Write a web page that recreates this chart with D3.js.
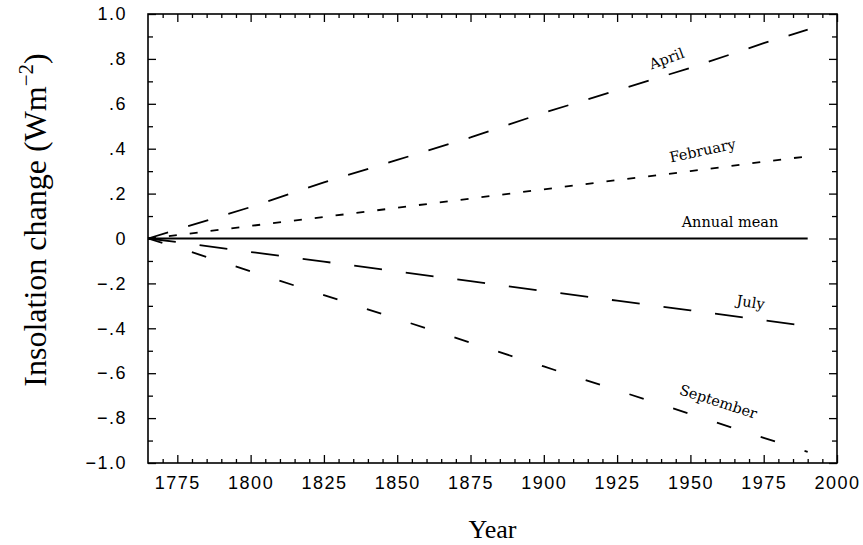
<!DOCTYPE html>
<html>
<head>
<meta charset="utf-8">
<script src="https://cdn.jsdelivr.net/npm/d3@7"></script>
<style>
  body { margin: 0; background: #fff; }
  .tick text { font-family: "Liberation Sans", Arial, sans-serif; font-size: 18px; letter-spacing: 1.5px; fill: #000; }
  .tick line { stroke: #000; stroke-width: 1.3; }
  .lbl { font-family: "DejaVu Serif", serif; font-size: 14.5px; fill: #000; }
  .title { font-family: "Liberation Serif", "Times New Roman", serif; fill: #000; }
</style>
</head>
<body>
<div id="chart"></div>
<script>
var fw = 863;
var fh = 545;

// values
var years = [1765, 1775, 1800, 1825, 1850, 1875, 1900, 1925, 1950, 1975, 1990];
var april = [0, 0.04, 0.14, 0.25, 0.35, 0.45, 0.56, 0.66, 0.76, 0.87, 0.93];
var february = [0, 0.015, 0.056, 0.096, 0.137, 0.178, 0.219, 0.26, 0.30, 0.342, 0.366];
var annualMean = [0, 0, 0, 0, 0, 0, 0, 0, 0, 0, 0];
var july = [0, -0.016, -0.06, -0.103, -0.147, -0.19, -0.234, -0.277, -0.32, -0.364, -0.39];
var september = [0, -0.04, -0.146, -0.252, -0.358, -0.464, -0.57, -0.676, -0.782, -0.888, -0.95];

var seriesNames = ["April", "February", "Annual mean", "July", "September"];
var seriesValues = [april, february, annualMean, july, september];
var seriesDash = ["21,21", "8,13", null, "28,24", "15,31"];

// label anchors (year, value) and tilt
var labelYears = [1942.5, 1954.5, 1963.5, 1970.3, 1959];
var labelValues = [0.78, 0.37, 0.051, -0.306, -0.748];
var labelAngles = [-20, -12, 0, 9, 18];

var xTicks = [1775, 1800, 1825, 1850, 1875, 1900, 1925, 1950, 1975, 2000];
var yTicks = [-1, -0.8, -0.6, -0.4, -0.2, 0, 0.2, 0.4, 0.6, 0.8, 1];
var yTickLabels = ["\u22121.0", "\u2212.8", "\u2212.6", "\u2212.4", "\u2212.2", "0", ".2", ".4", ".6", ".8", "1.0"];

var mar = { top: 14, right: 26, bottom: 82, left: 148 };
var w = fw - mar.left - mar.right;
var h = fh - mar.top - mar.bottom;

var svg = d3.select("#chart")
    .append("svg")
    .attr("width", fw)
    .attr("height", fh);

var g = svg.append("g")
    .attr("transform", "translate(" + mar.left + "," + mar.top + ")");

var x = d3.scaleLinear().domain([1765, 2000]).range([0, w]);
var y = d3.scaleLinear().domain([-1, 1]).range([h, 0]);

var xMinor = d3.range(1770, 2000, 5).filter(function(d) { return d % 25 != 0; });
var yMinor = d3.range(-9, 10, 2).map(function(d) { return d / 10; });

// major + minor ticks on all four sides, pointing in
function ticks(axisFn, vals, size, labels) {
    var a = axisFn.tickValues(vals).tickSizeInner(-size).tickSizeOuter(0);
    if (!labels) a.tickFormat("");
    return a;
}

g.append("g").attr("transform", "translate(0," + h + ")")
    .call(ticks(d3.axisBottom(x), xTicks, 8, true).tickPadding(13).tickFormat(d3.format("d")));
g.append("g").attr("transform", "translate(0," + h + ")")
    .call(ticks(d3.axisBottom(x), xMinor, 4, false));
g.append("g").call(ticks(d3.axisTop(x), xTicks, 8, false));
g.append("g").call(ticks(d3.axisTop(x), xMinor, 4, false));

g.append("g")
    .call(ticks(d3.axisLeft(y), yTicks, 8, true).tickPadding(21)
        .tickFormat(function(d, i) { return yTickLabels[i]; }));
g.append("g").call(ticks(d3.axisLeft(y), yMinor, 5, false));
g.append("g").attr("transform", "translate(" + w + ",0)")
    .call(ticks(d3.axisRight(y), yTicks, 8, false));
g.append("g").attr("transform", "translate(" + w + ",0)")
    .call(ticks(d3.axisRight(y), yMinor, 5, false));

g.selectAll(".domain").remove();
g.selectAll(".tick text").filter(function() { return this.textContent == ""; }).remove();

g.append("rect")
    .attr("width", w)
    .attr("height", h)
    .attr("fill", "none")
    .attr("stroke", "#000")
    .attr("stroke-width", 1.6);

var line = d3.line()
    .x(function(d, i) { return x(years[i]); })
    .y(function(d) { return y(d); });

g.selectAll(".series")
    .data(seriesValues)
    .enter()
    .append("path")
    .attr("class", "series")
    .attr("d", line)
    .attr("fill", "none")
    .attr("stroke", "#000")
    .attr("stroke-width", 1.8)
    .attr("stroke-dasharray", function(d, i) { return seriesDash[i]; });

g.selectAll(".lbl")
    .data(seriesNames)
    .enter()
    .append("text")
    .attr("class", "lbl")
    .attr("text-anchor", "middle")
    .attr("transform", function(d, i) {
        return "translate(" + x(labelYears[i]) + "," + y(labelValues[i]) + ") rotate(" + labelAngles[i] + ")";
    })
    .text(function(d) { return d; });

svg.append("text")
    .attr("class", "title")
    .attr("x", mar.left + w / 2)
    .attr("y", 538)
    .attr("text-anchor", "middle")
    .style("font-size", "26px")
    .text("Year");

var yl = svg.append("text")
    .attr("class", "title")
    .attr("transform", "translate(46,220) rotate(-90)")
    .attr("text-anchor", "middle")
    .style("font-size", "32px");
yl.append("tspan").text("Insolation change (Wm");
yl.append("tspan").attr("dy", -13).style("font-size", "21px").text("\u22122");
yl.append("tspan").attr("dy", 13).text(")");
</script>
</body>
</html>
